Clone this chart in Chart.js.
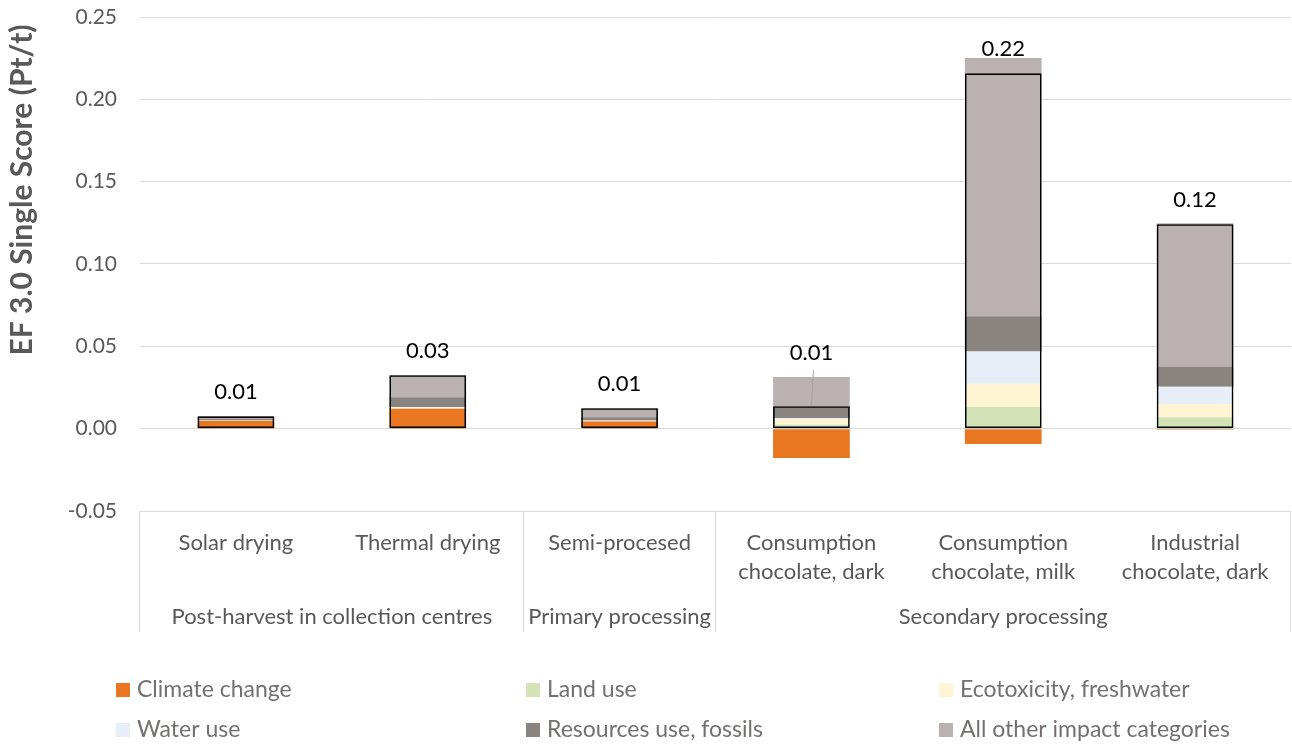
<!DOCTYPE html>
<html><head><meta charset="utf-8">
<script src="https://cdn.jsdelivr.net/npm/chart.js@4.4.0/dist/chart.umd.min.js"></script>
<style>html,body{margin:0;padding:0;background:#fff}#wrap{width:1292px;height:745px;position:relative}</style>
</head><body><div id="wrap"><canvas id="c" width="1292" height="745"></canvas></div>
<script>
const categories = [["Solar drying"],["Thermal drying"],["Semi-procesed"],["Consumption","chocolate, dark"],["Consumption","chocolate, milk"],["Industrial","chocolate, dark"]];
const groups = ["Post-harvest in collection centres","Primary processing","Secondary processing"];
const groupSizes = [2,1,3];
const climateChange    = [0.0047, 0.0121, 0.0044, -0.0178, -0.0093, -0.0006];
const landUse          = [0.0001, 0.0003, 0.0002,  0.0024,  0.0131,  0.0069];
const ecotoxFreshwater = [0.0001, 0.0004, 0.0002,  0.0035,  0.0142,  0.0081];
const waterUse         = [0.0001, 0.0003, 0.0001,  0.0006,  0.0196,  0.0105];
const fossils          = [0.0008, 0.0060, 0.0020,  0.0066,  0.0214,  0.0123];
const otherCategories  = [0.0017, 0.0134, 0.0055,  0.0183,  0.1568,  0.0870];
const yTicks = [-0.05, 0, 0.05, 0.10, 0.15, 0.20, 0.25];

const series = [
  {label:"Climate change", data:climateChange, color:"#E97721"},
  {label:"Land use", data:landUse, color:"#D3E2B7"},
  {label:"Ecotoxicity, freshwater", data:ecotoxFreshwater, color:"#FFF5D5"},
  {label:"Water use", data:waterUse, color:"#E7EEF8"},
  {label:"Resources use, fossils", data:fossils, color:"#898480"},
  {label:"All other impact categories", data:otherCategories, color:"#BAB2B0"}
];
const totals = categories.map((_, i) => series.reduce((s, d) => s + d.data[i], 0));
const positives = categories.map((_, i) => series.reduce((s, d) => s + Math.max(0, d.data[i]), 0));

const FONT = "Lato, 'Open Sans', sans-serif";
const GREY = "#595959";
const LEGEND_GREY = "#747070";
const GRID = "#d9d9d9";

const datasets = series.map(s => ({
  label: s.label, data: s.data, backgroundColor: s.color, borderWidth: 0,
  stack: "main", order: 1, categoryPercentage: 1, barPercentage: 0.4
}));
datasets.push({
  label: "Total", data: totals, backgroundColor: "rgba(0,0,0,0)", borderColor: "#000",
  borderWidth: 1.6, borderSkipped: false, stack: "total", order: 0, grouped: false,
  categoryPercentage: 1, barPercentage: 0.4
});

const extras = {
  id: "extras",
  afterDraw(chart) {
    const ctx = chart.ctx, x = chart.scales.x, y = chart.scales.y, ca = chart.chartArea;
    const cw = (ca.right - ca.left) / categories.length;
    ctx.save();
    ctx.strokeStyle = GRID; ctx.lineWidth = 1;
    let start = 0;
    const bottom = 632;
    const lines = [ca.left];
    groups.forEach((g, gi) => {
      const x0 = ca.left + start * cw, x1 = ca.left + (start + groupSizes[gi]) * cw;
      lines.push(x1);
      ctx.fillStyle = GREY; ctx.font = "22px " + FONT; ctx.textAlign = "center"; ctx.textBaseline = "middle";
      ctx.fillText(g, (x0 + x1) / 2, 617);
      start += groupSizes[gi];
    });
    lines.forEach(lx => {
      const px = Math.round(lx) - 0.5;
      ctx.beginPath(); ctx.moveTo(px, ca.bottom); ctx.lineTo(px, bottom); ctx.stroke();
    });
    ctx.font = "22px " + FONT; ctx.fillStyle = "#000"; ctx.textAlign = "center"; ctx.textBaseline = "middle";
    categories.forEach((_, i) => {
      const cx = x.getPixelForValue(i);
      const boxTop = y.getPixelForValue(totals[i]);
      const posTop = y.getPixelForValue(positives[i]);
      let ly = boxTop - 24;
      if (boxTop - posTop > 22) {
        ly = posTop - 24;
        ctx.strokeStyle = "#a6a6a6"; ctx.lineWidth = 1;
        ctx.beginPath(); ctx.moveTo(cx + 2, ly + 17); ctx.lineTo(cx, boxTop); ctx.stroke();
      }
      ctx.fillText(totals[i].toFixed(2), cx, ly);
    });
    ctx.save();
    ctx.translate(22, 190); ctx.rotate(-Math.PI / 2);
    ctx.font = "bold 30px " + FONT; ctx.fillStyle = GREY; ctx.textAlign = "center"; ctx.textBaseline = "middle";
    ctx.fillText("EF 3.0 Single Score (Pt/t)", 0, 0);
    ctx.restore();
    const cols = [116, 526, 939], rows = [690, 730];
    ctx.font = "23px " + FONT; ctx.textAlign = "left"; ctx.textBaseline = "middle";
    series.forEach((s, i) => {
      const lx = cols[i % 3], ly = rows[Math.floor(i / 3)];
      ctx.fillStyle = s.color; ctx.fillRect(lx, ly - 7, 14, 14);
      ctx.fillStyle = LEGEND_GREY; ctx.fillText(s.label, lx + 21, ly);
    });
    ctx.restore();
  }
};

new Chart(document.getElementById("c"), {
  type: "bar",
  data: { labels: categories, datasets },
  options: {
    responsive: false, animation: false,
    layout: { padding: { top: 17, right: 1, bottom: 113, left: 0 } },
    plugins: { legend: { display: false }, tooltip: { enabled: false } },
    scales: {
      x: {
        stacked: true, offset: true,
        grid: { display: false }, border: { display: false },
        ticks: { color: GREY, font: { family: FONT, size: 22, lineHeight: 1.32 }, padding: 9, maxRotation: 0, autoSkip: false },
        afterFit(s) { s.height = 121; }
      },
      y: {
        stacked: true, min: -0.05, max: 0.25,
        afterBuildTicks(s) { s.ticks = yTicks.map(v => ({ value: v })); },
        grid: { color: GRID, drawTicks: true, tickLength: 23, tickColor: "rgba(0,0,0,0)", lineWidth: 1 }, border: { display: false },
        ticks: { color: GREY, font: { family: FONT, size: 21 }, padding: 0, callback: v => Number(v).toFixed(2) },
        afterFit(s) { s.width = 140; }
      }
    }
  },
  plugins: [extras]
});
</script></body></html>
